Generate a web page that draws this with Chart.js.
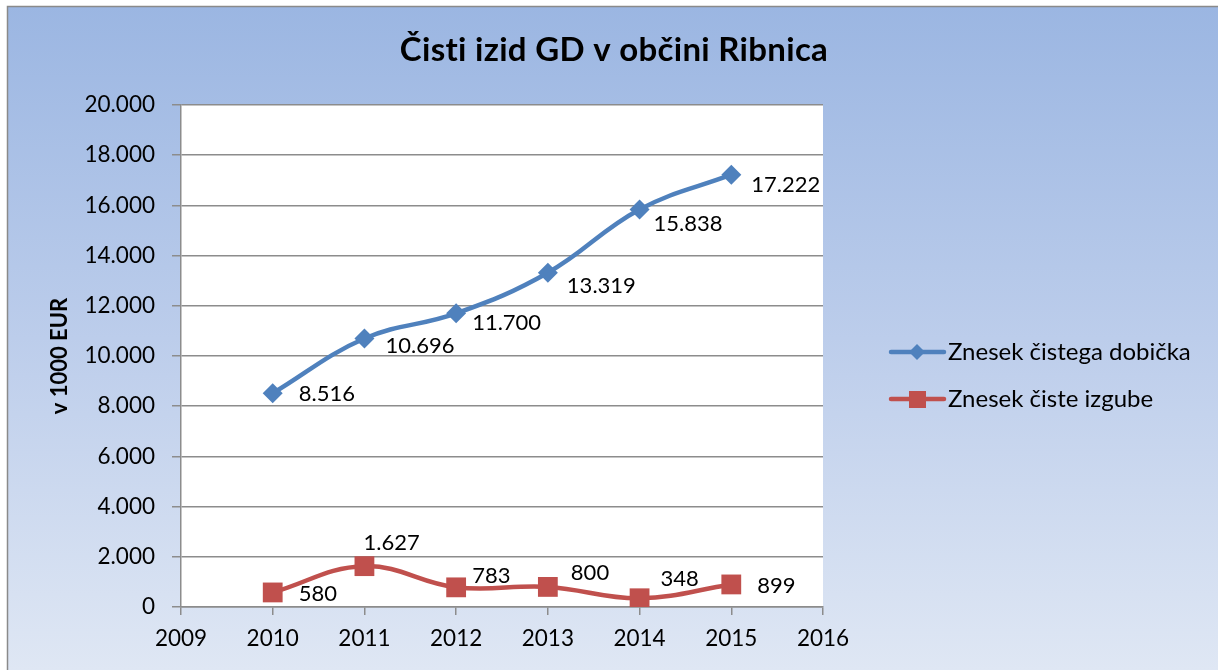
<!DOCTYPE html>
<html>
<head>
<meta charset="utf-8">
<script src="https://cdn.jsdelivr.net/npm/chart.js@4/dist/chart.umd.min.js"></script>
<style>
html,body{margin:0;padding:0;background:#fff;}
canvas{display:block;}
</style>
</head>
<body>
<canvas id="c" width="1218" height="670"></canvas>
<script>
// ---- data ----
const years = [2010, 2011, 2012, 2013, 2014, 2015];
const profit = [8516, 10696, 11700, 13319, 15838, 17222];
const loss = [580, 1627, 783, 800, 348, 899];
const seriesNames = ['Znesek čistega dobička', 'Znesek čiste izgube'];
const chartTitle = 'Čisti izid GD v občini Ribnica';
const yAxisTitle = 'v 1000 EUR';
const xMin = 2009, xMax = 2016;
const yMin = 0, yMax = 20000, yStep = 2000;

// label placement (offsets from point, px)
const profitLabelOffsets = [[26,1],[21,7],[16,10],[19,13],[14,14],[20,10]];
const lossLabelOffsets = [[26,1],[-1,-23],[16,-11],[23,-14],[21,-19],[26,1]];

const FONT = 'Lato, "Open Sans", sans-serif';
const BLUE = '#4F81BD', RED = '#C0504D', GRID = '#8c8c8c';

function fmt(v){ return String(v).replace(/\B(?=(\d{3})+(?!\d))/g, '.'); }

const bgPlugin = {
  id: 'bg',
  beforeDraw(chart){
    const ctx = chart.ctx, W = chart.width, H = chart.height;
    ctx.save();
    ctx.fillStyle = '#fff';
    ctx.fillRect(0,0,W,H);
    const g = ctx.createLinearGradient(0,6,0,H);
    g.addColorStop(0,'#9BB6E2');
    g.addColorStop(0.5,'#BCCDEB');
    g.addColorStop(1,'#DFE7F4');
    ctx.fillStyle = g;
    ctx.fillRect(7,6,W,H);
    ctx.strokeStyle = '#8a8a8a';
    ctx.lineWidth = 1.5;
    ctx.strokeRect(7.5,6.5,W+10,H+10);
    const a = chart.chartArea;
    ctx.fillStyle = '#fff';
    ctx.fillRect(a.left, a.top, a.right-a.left, a.bottom-a.top);
    ctx.restore();
  },
  afterDraw(chart){
    const ctx = chart.ctx;
    ctx.save();
    if ('letterSpacing' in ctx) ctx.letterSpacing = '0.3px';
    // title
    ctx.fillStyle = '#000';
    ctx.font = 'bold 33px ' + FONT;
    ctx.textAlign = 'center';
    ctx.textBaseline = 'middle';
    ctx.fillText(chartTitle, 614, 50);
    if ('letterSpacing' in ctx) ctx.letterSpacing = '0px';
    // data labels
    ctx.font = '22px ' + FONT;
    ctx.textAlign = 'left';
    const offs = [profitLabelOffsets, lossLabelOffsets];
    chart.data.datasets.forEach((ds, di) => {
      const meta = chart.getDatasetMeta(di);
      meta.data.forEach((pt, i) => {
        const o = offs[di][i];
        ctx.fillText(fmt(ds.data[i].y), pt.x + o[0], pt.y + o[1]);
      });
    });
    // legend
    const rows = [352, 399];
    chart.data.datasets.forEach((ds, di) => {
      const y = rows[di];
      ctx.strokeStyle = ds.borderColor;
      ctx.lineWidth = 4.5;
      ctx.lineCap = 'round';
      ctx.beginPath(); ctx.moveTo(891, y); ctx.lineTo(944, y); ctx.stroke();
      ctx.fillStyle = ds.backgroundColor;
      if (di === 0) {
        ctx.beginPath();
        ctx.moveTo(917, y-8); ctx.lineTo(925, y); ctx.lineTo(917, y+8); ctx.lineTo(909, y);
        ctx.closePath(); ctx.fill();
      } else {
        ctx.fillRect(909, y-8, 17, 17);
      }
      ctx.fillStyle = '#000';
      ctx.font = '24px ' + FONT;
      ctx.textBaseline = 'middle';
      ctx.fillText(ds.label, 948, y);
    });
    ctx.restore();
  }
};

new Chart(document.getElementById('c'), {
  type: 'line',
  data: {
    datasets: [
      {
        label: seriesNames[0],
        data: years.map((x,i)=>({x, y: profit[i]})),
        borderColor: BLUE, backgroundColor: BLUE,
        borderWidth: 4.5, tension: 0.4,
        pointStyle: 'rectRot', pointRadius: 10, pointHoverRadius: 10,
        pointBorderWidth: 0
      },
      {
        label: seriesNames[1],
        data: years.map((x,i)=>({x, y: loss[i]})),
        borderColor: RED, backgroundColor: RED,
        borderWidth: 4.5, tension: 0.4,
        pointStyle: 'rect', pointRadius: 14, pointHoverRadius: 14,
        pointBorderWidth: 0
      }
    ]
  },
  options: {
    responsive: false,
    animation: false,
    devicePixelRatio: 1,
    layout: { padding: { left: 40, right: 395, top: 105, bottom: 0 } },
    plugins: { legend: { display: false }, title: { display: false }, tooltip: { enabled: false } },
    scales: {
      x: {
        type: 'linear', min: xMin, max: xMax,
        afterFit(s){ s.height = 63; },
        ticks: { stepSize: 1, padding: 10, color: '#000', font: { family: FONT, size: 22.5 },
                 callback: v => String(v), maxRotation: 0 },
        grid: { drawOnChartArea: false, drawTicks: true, tickLength: 8, color: GRID, lineWidth: 1.5 },
        border: { display: true, color: GRID, width: 1.5 }
      },
      y: {
        min: yMin, max: yMax,
        afterFit(s){ s.width = 141; },
        ticks: { stepSize: yStep, padding: 17, color: '#000', font: { family: FONT, size: 22.5 },
                 callback: v => fmt(v) },
        grid: { color: GRID, lineWidth: 1.5, tickLength: 9 },
        border: { display: true, color: GRID, width: 1.5 },
        title: { display: true, text: yAxisTitle, color: '#000',
                 font: { family: FONT, size: 22, weight: 'bold' }, padding: { top: 7, bottom: 0 } }
      }
    }
  },
  plugins: [bgPlugin]
});
</script>
</body>
</html>
